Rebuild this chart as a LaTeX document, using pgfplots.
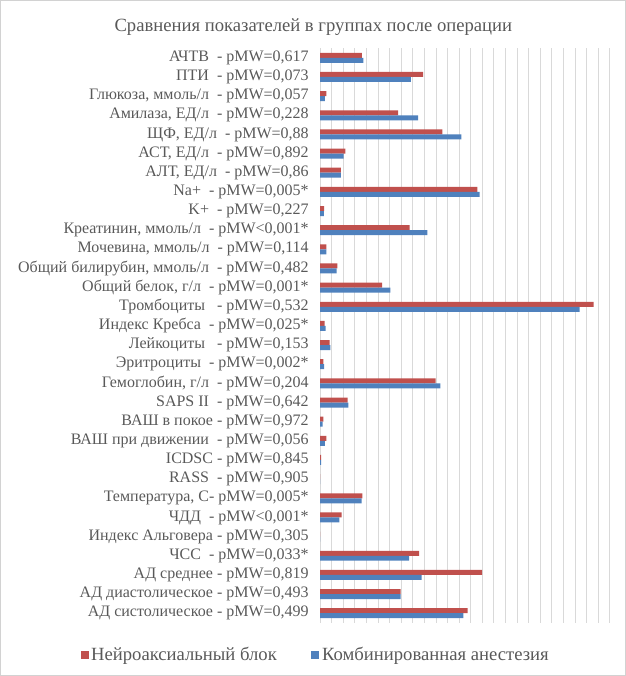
\documentclass[border=0pt]{standalone}
\usepackage{fontspec}
\setmainfont{Liberation Serif}
\usepackage{pgfplots}
\pgfplotsset{compat=1.18}
\definecolor{neuro}{HTML}{C0504D}
\definecolor{komb}{HTML}{4F81BD}
\definecolor{txt}{HTML}{595959}
\definecolor{gridc}{HTML}{D9D9D9}

\pgfplotstableread{
idx neuro komb
0 36.2 37.4
1 88.9 78.3
2 5.5 4.3
3 67.3 84.6
4 105.6 122.0
5 21.9 20.4
6 18.1 18.1
7 135.8 137.8
8 3.5 3.3
9 77.4 92.6
10 5.5 5.5
11 15.0 14.4
12 53.5 60.7
13 236.0 224.0
14 4.0 4.9
15 8.3 8.9
16 2.9 3.5
17 99.8 103.9
18 23.9 24.5
19 2.9 2.3
20 5.5 4.3
21 0.9 0.9
22 0 0
23 36.5 36.0
24 18.7 16.7
25 0 0
26 85.4 76.8
27 139.8 87.7
28 69.6 69.6
29 127.4 123.7
}\data

\begin{document}
\begin{tikzpicture}
  % frame of the chart area
  \draw[gray!35] (-240pt,-39.75pt) rectangle (228.75pt,467.25pt);
  \node[font=\fontsize{14}{16}\selectfont, text=txt] at (-5pt,447pt)
    {Сравнения показателей в группах после операции};
  \begin{axis}[
      scale only axis,
      width=217.5pt, height=431.25pt,
      xbar=0pt,
      bar width=3.75pt,
      xmin=0, xmax=250,
      ymin=-0.5, ymax=29.5,
      y dir=reverse,
      xtick={0,10,...,250},
      xticklabels={},
      xmajorgrids=true,
      grid style={draw=gridc, line width=0.6pt},
      major tick length=0pt,
      axis line style={draw=none},
      ytick={0,...,29},
      yticklabels={
        {АЧТВ~ - pMW=0,617},
        {ПТИ~ - pMW=0,073},
        {Глюкоза, ммоль/л~ - pMW=0,057},
        {Амилаза, ЕД/л~ - pMW=0,228},
        {ЩФ, ЕД/л~ - pMW=0,88},
        {АСТ, ЕД/л~ - pMW=0,892},
        {АЛТ, ЕД/л~ - pMW=0,86},
        {Na+~ - pMW=0,005*},
        {K+~ - pMW=0,227},
        {Креатинин, ммоль/л~ - pMW<0,001*},
        {Мочевина, ммоль/л~ - pMW=0,114},
        {Общий билирубин, ммоль/л~ - pMW=0,482},
        {Общий белок, г/л~ - pMW=0,001*},
        {Тромбоциты~~ - pMW=0,532},
        {Индекс Кребса~ - pMW=0,025*},
        {Лейкоциты~~ - pMW=0,153},
        {Эритроциты~ - pMW=0,002*},
        {Гемоглобин, г/л~ - pMW=0,204},
        {SAPS II~ - pMW=0,642},
        {ВАШ в покое - pMW=0,972},
        {ВАШ при движении~ - pMW=0,056},
        {ICDSC - pMW=0,845},
        {RASS~ - pMW=0,905},
        {Температура, С- pMW=0,005*},
        {ЧДД~ - pMW<0,001*},
        {Индекс Альговера - pMW=0,305},
        {ЧСС~ - pMW=0,033*},
        {АД среднее - pMW=0,819},
        {АД диастолическое - pMW=0,493},
        {АД систолическое - pMW=0,499}},
      yticklabel style={font=\fontsize{12}{14}\selectfont, text=txt, xshift=-5pt},
      legend style={at={(axis description cs:-0.014,-0.0557)}, anchor=center,
        draw=none, fill=none, legend columns=2,
        font=\fontsize{14}{16}\selectfont, text=txt,
        /tikz/every even column/.append style={column sep=24pt}},
      legend image code/.code={\fill[#1] (0pt,-3pt) rectangle (6pt,3pt);},
    ]
    \addplot[fill=neuro, draw=none, bar shift=1.875pt] table[x=neuro, y=idx] {\data};
    \addplot[fill=komb, draw=none, bar shift=-1.875pt] table[x=komb, y=idx] {\data};
    \legend{Нейроаксиальный блок, Комбинированная анестезия}
  \end{axis}
\end{tikzpicture}
\end{document}
